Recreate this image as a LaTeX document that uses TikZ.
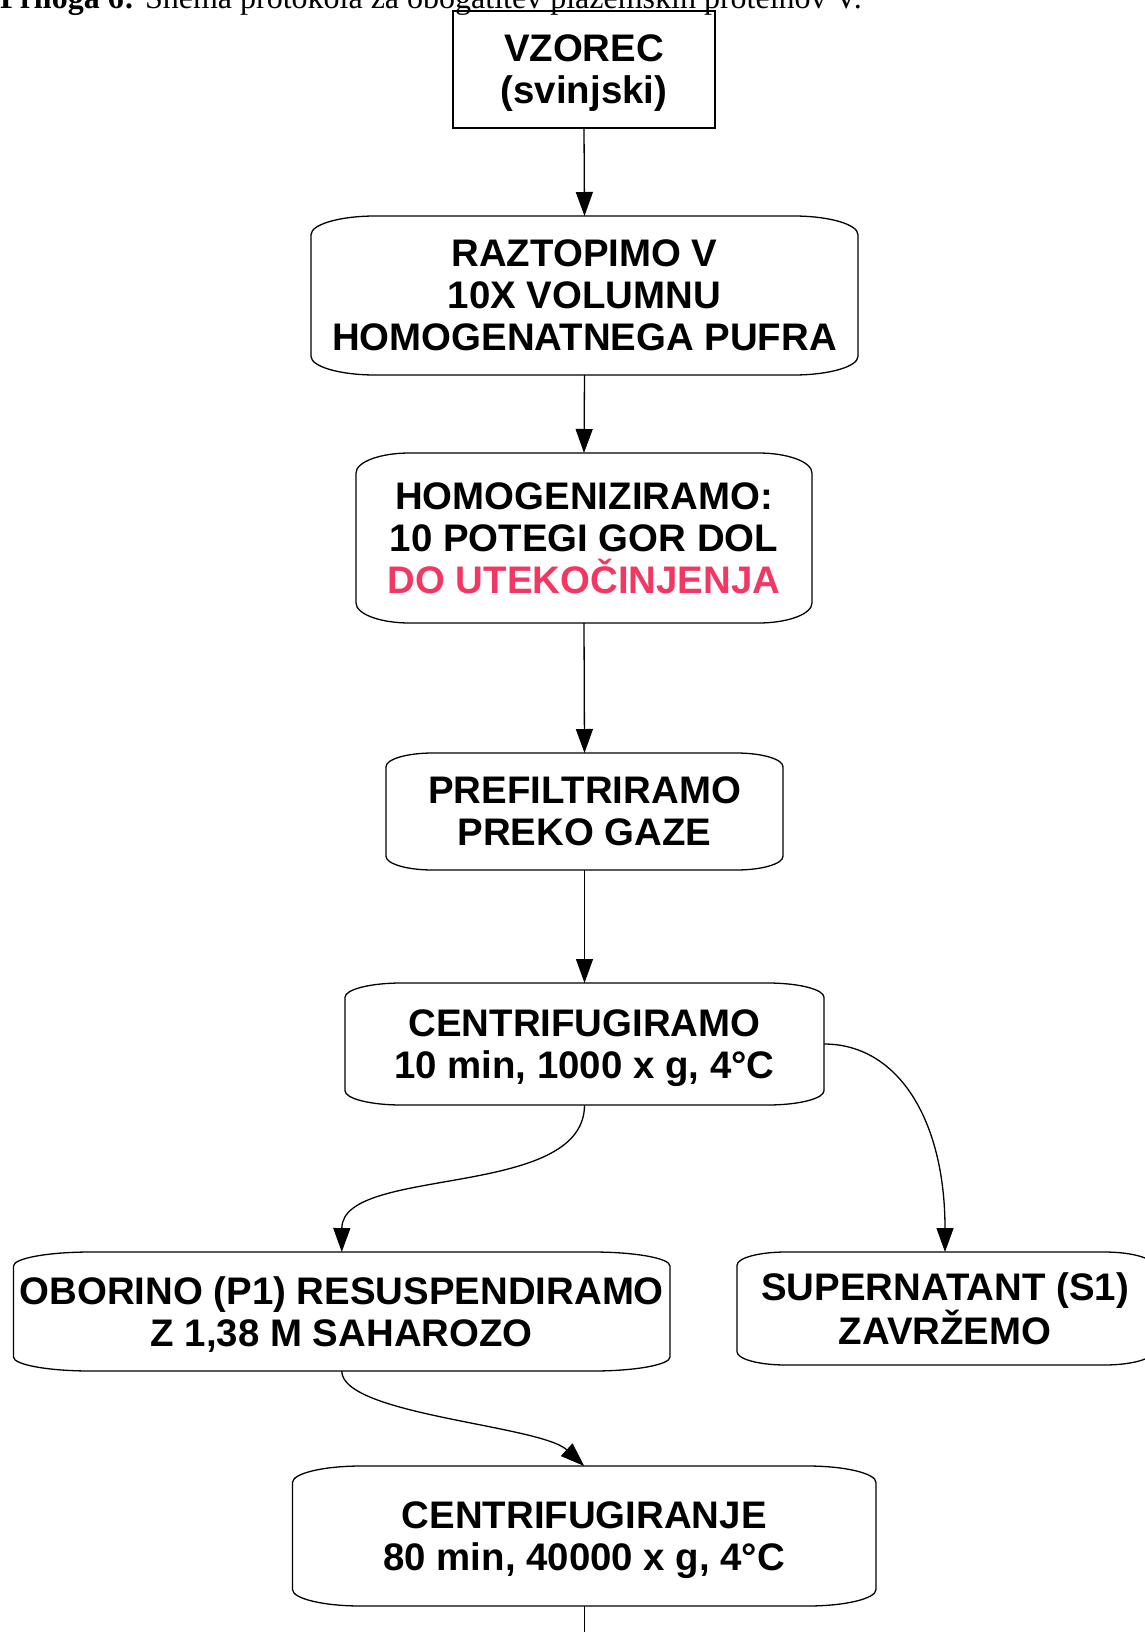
\documentclass[tikz,border=0pt]{standalone}
\usepackage{fontspec}
\setmainfont{Liberation Sans}
\newfontfamily\capfont{Liberation Serif}
\usetikzlibrary{arrows.meta,calc}
\definecolor{warnred}{RGB}{242,56,98}

% a last line whose descenders do not push the text block upwards
\newcommand\nodepth[1]{\raisebox{0pt}[\height][0pt]{#1}}

\tikzset{
  stepbox/.style={draw=none, inner sep=0pt, outer sep=0pt, align=center,
    font=\bfseries\fontsize{38.4}{42}\selectfont},
  outline/.style={line width=1.3pt},
  flow/.style={line width=1.3pt, -{Triangle[length=24pt,width=17pt]}},
}

% outline of a box with elliptic corners (radii = 0.1176 of width / height)
\newcommand\altoutline[1]{%
  \draw[outline] let \p1=(#1.south west), \p2=(#1.north east),
    \n1={0.1176*(\x2-\x1)}, \n2={0.1176*(\y2-\y1)} in
    (\x1,\y1+\n2) -- (\x1,\y2-\n2)
    arc[start angle=180, end angle=90, x radius=\n1, y radius=\n2]
    -- (\x2-\n1,\y2)
    arc[start angle=90, end angle=0, x radius=\n1, y radius=\n2]
    -- (\x2,\y1+\n2)
    arc[start angle=0, end angle=-90, x radius=\n1, y radius=\n2]
    -- (\x1+\n1,\y1)
    arc[start angle=270, end angle=180, x radius=\n1, y radius=\n2]
    -- cycle;}

\begin{document}
\begin{tikzpicture}[x=1pt,y=1pt]
\useasboundingbox (0,0) rectangle (1145,-1632);

% caption
\node[anchor=base west, inner sep=0pt] (cap) at (0,-9)
  {\capfont\fontsize{32}{36}\selectfont\textbf{Priloga 6:} Shema protokola za obogatitev plazemskih proteinov V.};

% steps
\node[stepbox, minimum width=262, minimum height=117] (vz) at (584,-69.5)
  {VZOREC\\\nodepth{(svinjski)}};
\draw[outline] (vz.south west) rectangle (vz.north east);

\node[stepbox, minimum width=547, minimum height=159] (rz) at (584.5,-295.5)
  {RAZTOPIMO V\\10X VOLUMNU\\\nodepth{HOMOGENATNEGA PUFRA}};
\altoutline{rz}

\node[stepbox, minimum width=456, minimum height=170] (hom) at (584,-538)
  {HOMOGENIZIRAMO:\\10 POTEGI GOR DOL\\\nodepth{\textcolor{warnred}{DO UTEKOČINJENJA}}};
\altoutline{hom}

\node[stepbox, minimum width=397, minimum height=117] (pf) at (584.5,-811.5)
  {PREFILTRIRAMO\\\nodepth{PREKO GAZE}};
\altoutline{pf}

\node[stepbox, minimum width=479, minimum height=122] (cf1) at (584.5,-1044)
  {CENTRIFUGIRAMO\\\nodepth{10 min, 1000 x g, 4°C}};
\altoutline{cf1}

\node[stepbox, minimum width=656.5, minimum height=119] (ob) at (341.75,-1311.5)
  {OBORINO (P1) RESUSPENDIRAMO\\\nodepth{Z 1,38 M SAHAROZO}};
\altoutline{ob}

\node[stepbox, minimum width=416, minimum height=113] (sup) at (945,-1308.5)
  {SUPERNATANT (S1)\\\nodepth{ZAVRŽEMO}};
\altoutline{sup}

\node[stepbox, minimum width=583.5, minimum height=140] (cf2) at (584.25,-1536)
  {CENTRIFUGIRANJE\\\nodepth{80 min, 40000 x g, 4°C}};
\altoutline{cf2}

\coordinate (cont) at (584.25,-1632);

% connectors
\draw[flow] (vz.south) -- (rz.north);
\draw[flow] (rz.south) -- (hom.north);
\draw[flow] (hom.south) -- (pf.north);
\draw[flow] (pf.south) -- (cf1.north);
\draw[flow] (cf1.south) .. controls (584.5,-1200) and (342,-1165) .. (ob.north);
\draw[flow] (cf1.east) .. controls (898,-1044) and (945,-1120) .. (sup.north);
\draw[flow] (ob.south) .. controls (342,-1415) and (540,-1425) .. (cf2.north);
\draw[outline] (cf2.south) -- (cont);
\end{tikzpicture}
\end{document}
